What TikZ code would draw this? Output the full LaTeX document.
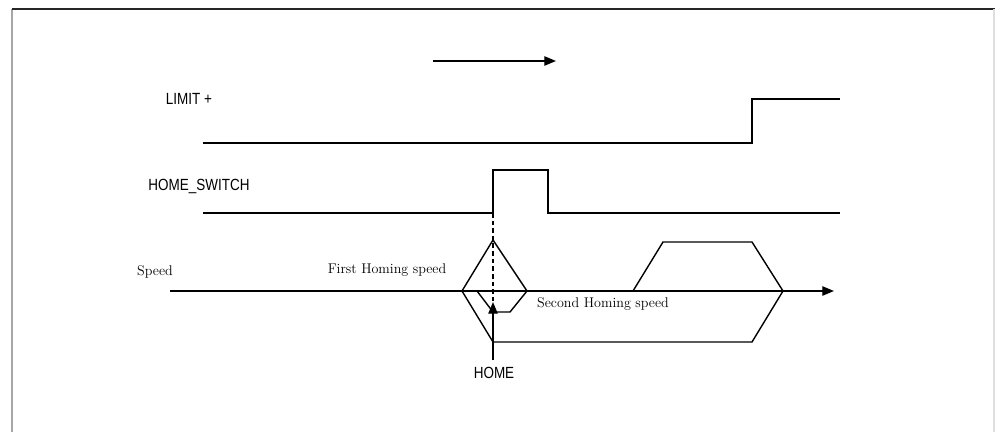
\documentclass[tikz,border=0pt]{standalone}
\usepackage{fontspec}
\usepackage{tikz}
\usetikzlibrary{arrows.meta}
\newfontfamily\sigfont{Liberation Sans}

\tikzset{
  wave/.style={line width=1.2pt, line join=miter},
  siglabel/.style={font=\sigfont\fontsize{11.5}{13}\selectfont, inner sep=0pt},
  spdlabel/.style={font=\fontsize{12}{14}\selectfont, inner sep=0pt},
  tipped/.style={-{Triangle[length=10pt,width=8pt]}}
}

\begin{document}
\begin{tikzpicture}[x=0.03cm,y=-0.03cm]
\useasboundingbox (0,0) rectangle (995,432);

% Frame
\draw[gray!70, line width=1pt] (12,432) -- (12,9);
\draw[black!85, line width=1pt] (12,9) -- (995,9);
\draw[gray!25, line width=1pt] (994,9) -- (994,432);

% Direction of travel
\coordinate (dirS) at (433,61);
\coordinate (dirE) at (556,61);
\draw[wave,tipped] (dirS) -- (dirE);

% Labels
\node[siglabel] (limlbl) at (189,99) {\scalebox{1}[1.2]{LIMIT +}};
\node[siglabel] (swlbl) at (199,186) {\scalebox{1}[1.2]{HOME\_SWITCH}};
\node[spdlabel] (spdlbl) at (155,272) {Speed};
\node[spdlabel] (firstlbl) at (387,270) {First Homing speed};
\node[spdlabel] (secondlbl) at (603,304) {Second Homing speed};
\node[siglabel] (homelbl) at (494,373) {\scalebox{1}[1.2]{HOME}};

% LIMIT + signal
\draw[wave] (203,143) -- (752,143) -- (752,99) -- (840,99);

% HOME_SWITCH signal
\coordinate (swrise) at (493,213);
\draw[wave] (203,213) -- (swrise) -- (493,170) -- (548,170) -- (548,213) -- (840,213);

% Speed axis
\coordinate (axS) at (170,291);
\coordinate (axE) at (834,291);
\draw[wave,tipped] (axS) -- (axE);

% First homing speed and return
\draw[wave] (462,291) -- (493,240) -- (527,291) -- (510,312) -- (493,312) -- (477,291);
\draw[wave] (462,291) -- (493,342) -- (752,342) -- (783,291);

% Second move
\draw[wave] (633,291) -- (663,242) -- (752,242) -- (783,291);

% Home position
\coordinate (hometip) at (493,302);
\coordinate (homebase) at (493,360);
\draw[line width=1.2pt, dash pattern=on 4pt off 2.5pt] (swrise) -- (hometip);
\draw[wave,tipped] (homebase) -- (hometip);
\end{tikzpicture}
\end{document}
